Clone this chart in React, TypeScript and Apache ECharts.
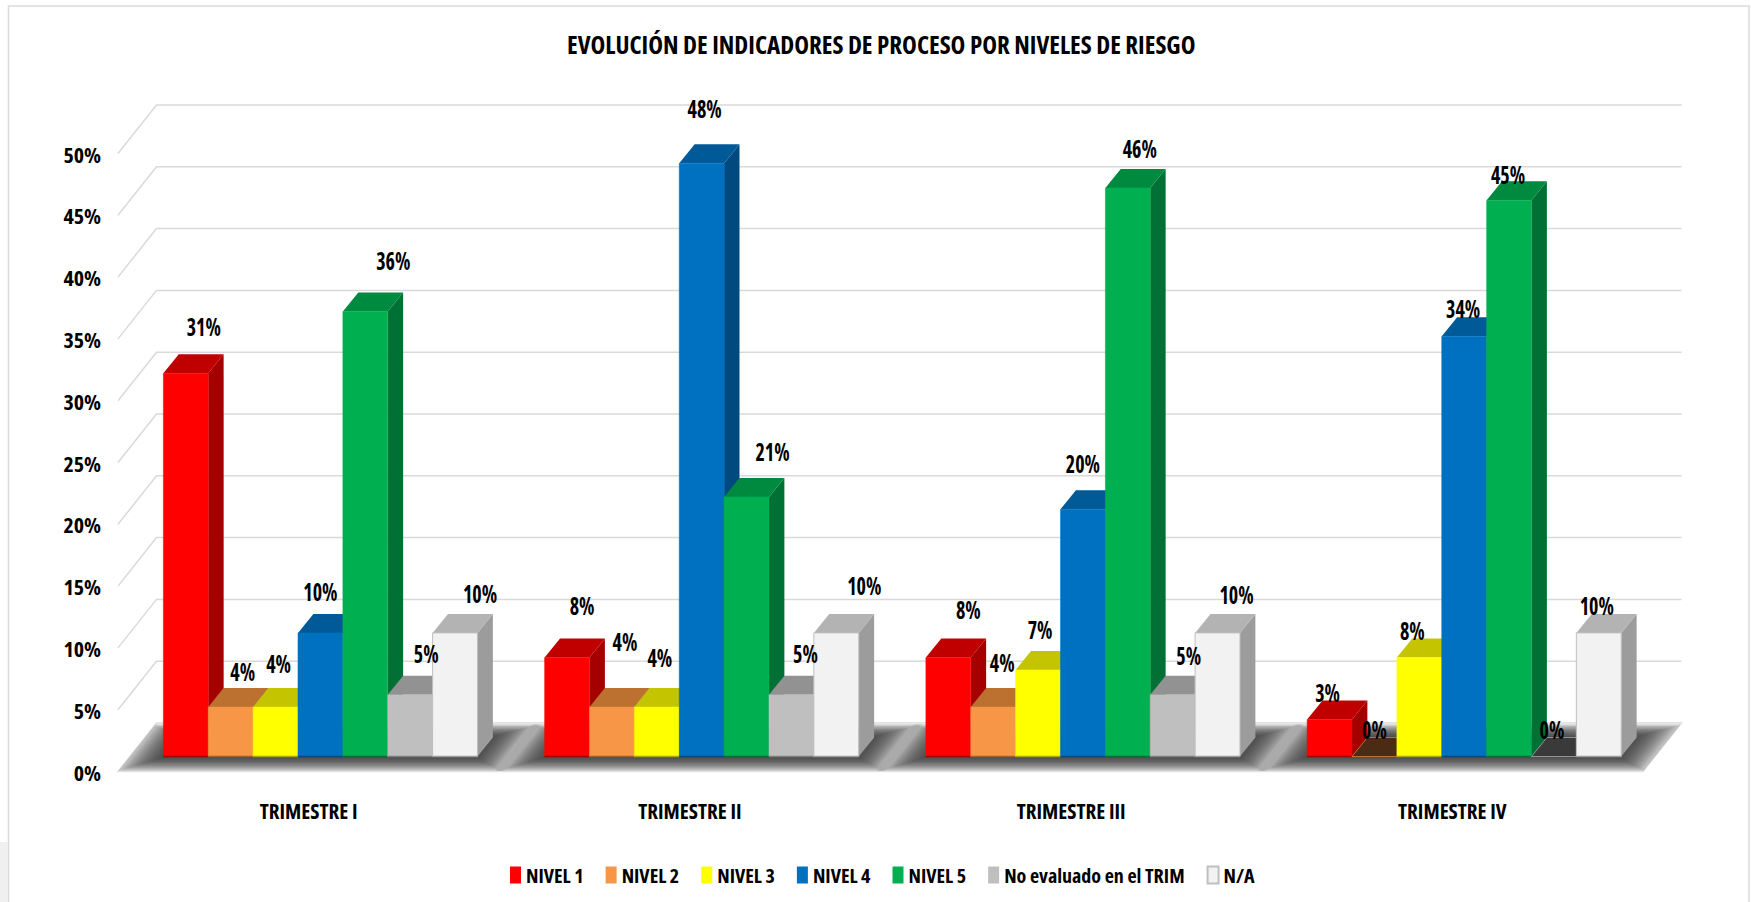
import React, { useEffect, useRef } from "react";
import * as echarts from "echarts";

const categories = ["TRIMESTRE I", "TRIMESTRE II", "TRIMESTRE III", "TRIMESTRE IV"];
const seriesNames = ["NIVEL 1", "NIVEL 2", "NIVEL 3", "NIVEL 4", "NIVEL 5", "No evaluado en el TRIM", "N/A"];
const nivel1 = [31, 8, 8, 3];
const nivel2 = [4, 4, 4, 0];
const nivel3 = [4, 4, 7, 8];
const nivel4 = [10, 48, 20, 34];
const nivel5 = [36, 21, 46, 45];
const noEvaluado = [5, 5, 5, 0];
const na = [10, 10, 10, 10];
const yTicks = [0, 5, 10, 15, 20, 25, 30, 35, 40, 45, 50];
const allValues = [nivel1, nivel2, nivel3, nivel4, nivel5, noEvaluado, na];

const frontColors = ["#ff0000", "#f79646", "#ffff00", "#0070c0", "#00b050", "#bfbfbf", "#f2f2f2"];
const topColors = ["#c00000", "#bd7130", "#c4c400", "#005a98", "#008a40", "#929292", "#b3b3b3"];
const sideColors = ["#a50000", "#a05f28", "#a8a800", "#004a80", "#007034", "#7d7d7d", "#9c9c9c"];
const zeroTopColors = ["#4a2b14", "#4a2b14", "#4a2b14", "#4a2b14", "#4a2b14", "#3a3a3a", "#3a3a3a"];

// Hand placement of the value labels relative to each bar: [dx, dy] per level, per quarter.
const labelShift = [
  [[18, -47], [12, -35], [3, -43], [0, -41], [28, -51], [16, -41], [25, -39]],
  [[15, -52], [13, -65], [3, -49], [3, -55], [26, -45], [14, -41], [28, -47]],
  [[20, -48], [9, -44], [2, -40], [0, -46], [12, -39], [16, -39], [19, -38]],
  [[-2, -27], [0, -27], [-7, -27], [-1, -28], [-1, -26], [-2, -27], [-2, -27]],
];

const FONT = "Open Sans";
const WALL_DX = 38.5;
const WALL_DY = 48.5;
const BAR_PLANE_DX = 11.8;
const BAR_PLANE_DY = 15;
const BAR_DX = 15.4;
const BAR_DY = 19;
const BAR_RATIO = 0.1177;
const GRID = "#d9d9d9";

// The SVG text is narrowed by a stylesheet, so layout must measure the narrowed face too.
let measureCtx: any = null;
const setPlatform = (echarts as any).setPlatformAPI;
if (typeof setPlatform === "function") {
  setPlatform({
    measureText(text: string, font?: string) {
      if (!measureCtx) measureCtx = document.createElement("canvas").getContext("2d");
      const f = font || `12px ${FONT}`;
      measureCtx.font = f.indexOf("condensed") >= 0 ? f : `condensed ${f}`;
      return measureCtx.measureText(text);
    },
  });
}

const poly = (points: number[][], fill: string, extra: any = {}) => ({
  type: "polygon",
  silent: true,
  shape: { points },
  style: { fill, ...extra },
});

const barGeom = (api: any, cat: number, level: number, value: number) => {
  const w = api.size([1, 0])[0] * BAR_RATIO;
  const c = api.coord([cat, value]);
  const b = api.coord([cat, 0]);
  const x0 = c[0] + BAR_PLANE_DX + (level - 3.5) * w;
  return { x0, x1: x0 + w, top: c[1] - BAR_PLANE_DY, base: b[1] - BAR_PLANE_DY, w };
};

const renderWall = (params: any, api: any) => {
  const cs = params.coordSys;
  const y = api.coord([0, api.value(0)])[1];
  const xL = cs.x;
  const xR = cs.x + cs.width;
  const isFloor = api.value(0) === 0;
  return {
    type: "polyline",
    silent: true,
    shape: {
      points: isFloor
        ? [[xL + WALL_DX, y - WALL_DY], [xR + WALL_DX, y - WALL_DY]]
        : [[xL, y], [xL + WALL_DX, y - WALL_DY], [xR + WALL_DX, y - WALL_DY]],
    },
    style: { stroke: GRID, lineWidth: 1.5, fill: "none" },
  };
};

const renderFloor = (params: any, api: any) => {
  const cs = params.coordSys;
  const y0 = cs.y + cs.height;
  const backY = y0 - WALL_DY;
  const cat = api.value(0);
  const children: any[] = [];
  if (cat === 0) {
    children.push(
      poly(
        [[cs.x, y0], [cs.x + cs.width, y0], [cs.x + cs.width + WALL_DX, backY], [cs.x + WALL_DX, backY]],
        "#f4f4f4",
        { stroke: "#e2e2e2", lineWidth: 1.5 }
      )
    );
  }
  const first = barGeom(api, cat, 0, 0);
  const last = barGeom(api, cat, 6, 0);
  const slope = WALL_DX / WALL_DY;
  const baseY = first.base;
  const steps = 18;
  for (let k = steps; k >= 0; k--) {
    const spread = k * 2.1;
    const frontY = Math.min(baseY + 1 + k * 0.8, y0 - 0.5);
    const farY = backY + 1 + (steps - k) * 0.7;
    const shiftF = (baseY - frontY) * slope;
    const shiftB = (baseY - farY) * slope;
    const maxFrontX = cs.x + cs.width + (y0 - frontY) * slope;
    const maxBackX = cs.x + cs.width + (y0 - farY) * slope;
    const minFrontX = cs.x + (y0 - frontY) * slope;
    const minBackX = cs.x + (y0 - farY) * slope;
    children.push(
      poly(
        [
          [Math.max(first.x0 - spread + shiftF, minFrontX), frontY],
          [Math.min(last.x1 + spread + shiftF, maxFrontX), frontY],
          [Math.min(last.x1 + spread + shiftB, maxBackX), farY],
          [Math.max(first.x0 - spread + shiftB, minBackX), farY],
        ],
        "#2b2b2b",
        { opacity: 0.085 }
      )
    );
  }
  return { type: "group", children };
};

const makeBarRenderer = (level: number) => (_params: any, api: any) => {
  const cat = api.value(0);
  const v = api.value(1);
  const g = barGeom(api, cat, level, v);
  const isZero = v === 0;
  const outline = level === 6 ? { stroke: "#bfbfbf", lineWidth: 1 } : { stroke: frontColors[level], lineWidth: 0.5 };
  const top = isZero ? zeroTopColors[level] : topColors[level];
  return {
    type: "group",
    children: [
      poly(
        [[g.x1, g.top], [g.x1 + BAR_DX, g.top - BAR_DY], [g.x1 + BAR_DX, g.base - BAR_DY], [g.x1, g.base]],
        sideColors[level]
      ),
      poly(
        [[g.x0, g.top], [g.x1, g.top], [g.x1 + BAR_DX, g.top - BAR_DY], [g.x0 + BAR_DX, g.top - BAR_DY]],
        top,
        isZero ? { stroke: topColors[level], lineWidth: 1 } : {}
      ),
      ...(isZero
        ? []
        : [
            poly([[g.x0, g.top], [g.x1, g.top], [g.x1, g.base], [g.x0, g.base]], frontColors[level], outline),
            {
              type: "line",
              silent: true,
              shape: { x1: g.x0, y1: g.base, x2: g.x1, y2: g.base },
              style: { stroke: sideColors[level], lineWidth: 1.5 },
            },
          ]),
    ],
  };
};

const renderLabel = (_params: any, api: any) => {
  const cat = api.value(0);
  const level = api.value(1);
  const v = api.value(2);
  const g = barGeom(api, cat, level, v);
  const [dx, dy] = labelShift[cat][level];
  return {
    type: "text",
    silent: true,
    x: (g.x0 + g.x1) / 2 + dx,
    y: g.top + dy,
    scaleY: 1.25,
    style: {
      text: `${v}%`,
      x: 0,
      y: 0,
      fill: "#000",
      font: `bold 20px "${FONT}"`,
      align: "center",
      verticalAlign: "middle",
    },
  };
};

const labelRows: number[][] = [];
categories.forEach((_c, cat) => {
  allValues.forEach((vals, level) => labelRows.push([cat, level, vals[cat]]));
});

const textBase = { fontFamily: FONT, fontWeight: "bold", color: "#000" };

export default function App() {
  const ref = useRef<HTMLDivElement>(null);
  useEffect(() => {
    document.body.style.margin = "0";
    document.body.style.overflow = "hidden";
    const css = document.createElement("style");
    css.textContent = "svg text { font-stretch: condensed !important; }";
    document.head.appendChild(css);
    const chart = echarts.init(ref.current!, null, { renderer: "svg" });
    chart.setOption({
      animation: false,
      backgroundColor: "#ffffff",
      title: {
        text: "EVOLUCIÓN DE INDICADORES DE PROCESO POR NIVELES DE RIESGO",
        left: 562,
        top: 26,
        textStyle: { ...textBase, fontSize: 25 },
      },
      legend: {
        data: seriesNames,
        left: 505,
        top: 860,
        icon: "rect",
        itemWidth: 11,
        itemHeight: 17,
        itemGap: 22,
        textStyle: { ...textBase, fontSize: 20 },
        selectedMode: false,
      },
      grid: { left: 118, top: 153.5, width: 1525, height: 618 },
      xAxis: {
        type: "category",
        data: categories,
        axisLine: { show: false },
        axisTick: { show: false },
        axisLabel: { ...textBase, margin: 29, fontSize: 21 },
      },
      yAxis: {
        type: "value",
        min: 0,
        max: 50,
        interval: 5,
        axisLine: { show: false },
        axisTick: { show: false },
        splitLine: { show: false },
        axisLabel: {
          ...textBase,
          margin: 17,
          formatter: (v: number) => `${v}%`,
          fontSize: 22,
        },
      },
      graphic: [
        {
          type: "polyline",
          silent: true,
          z: 0,
          shape: { points: [[8.5, 902], [8.5, 6], [1749, 6], [1749, 902]] },
          style: { stroke: "#dcdcdc", lineWidth: 1.5, fill: "none" },
        },
        {
          type: "rect",
          silent: true,
          z: 0,
          shape: { x: 0, y: 842, width: 8, height: 60 },
          style: { fill: "#f0f0f0" },
        },
      ],
      series: [
        {
          type: "custom",
          name: "wall",
          data: yTicks.map((v) => [v]),
          encode: { y: 0 },
          renderItem: renderWall,
          silent: true,
        },
        {
          type: "custom",
          name: "floor",
          data: categories.map((_c, i) => [i]),
          encode: { x: 0 },
          renderItem: renderFloor,
          silent: true,
        },
        ...seriesNames.map((name, level) => ({
          type: "custom",
          name,
          data: allValues[level].map((v, cat) => [cat, v]),
          encode: { x: 0, y: 1 },
          renderItem: makeBarRenderer(level),
          itemStyle:
            level === 6
              ? { color: frontColors[level], borderColor: "#bfbfbf", borderWidth: 1 }
              : { color: frontColors[level] },
          silent: true,
        })),
        {
          type: "custom",
          name: "labels",
          data: labelRows,
          encode: { x: 0, y: 2 },
          renderItem: renderLabel,
          silent: true,
        },
      ],
    });
    return () => {
      chart.dispose();
      css.remove();
    };
  }, []);
  return <div ref={ref} style={{ width: 1751, height: 902 }} />;
}
